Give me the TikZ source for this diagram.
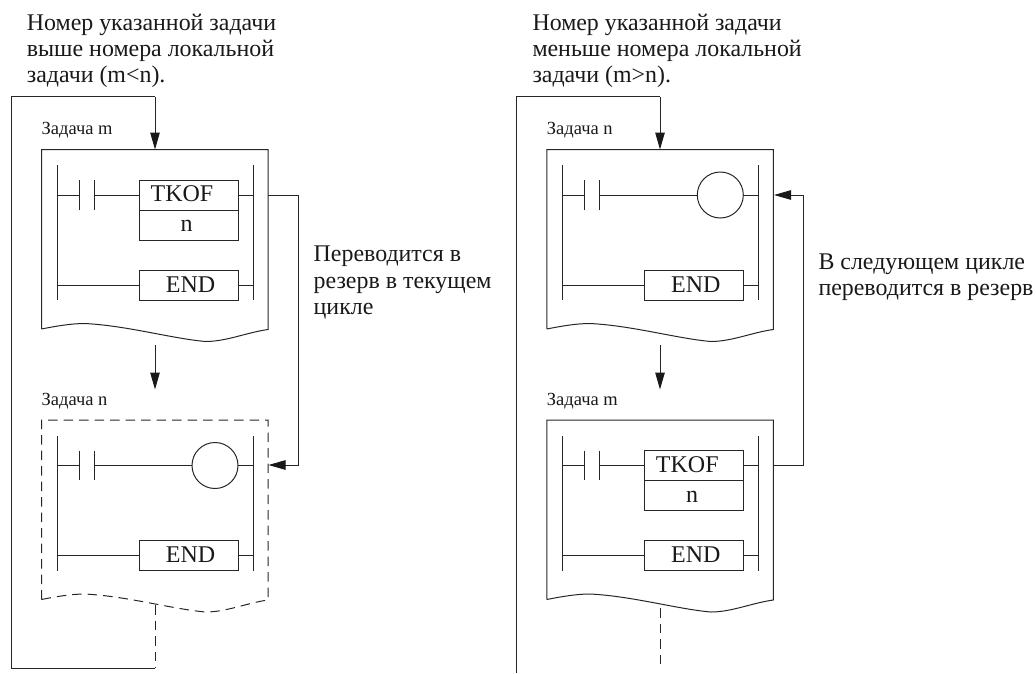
\documentclass[tikz,border=0pt]{standalone}
\usepackage{fontspec}
\setmainfont{Liberation Serif}
\usetikzlibrary{arrows.meta}
\tikzset{
  x=1pt,y=-1pt,
  wire/.style={line width=1pt,draw=black!85},
  rail/.style={line width=1pt,draw=black!85},
  loopline/.style={line width=1pt,draw=black!85},
  arrowline/.style={line width=1pt,draw=black!85,-{Triangle[length=17pt,width=9.5pt,black!90]}},
  dashline/.style={line width=1pt,draw=black!85,dash pattern=on 9.5pt off 6pt},
  bodytext/.style={anchor=base west,inner sep=0pt,font=\fontsize{23.9}{26}\selectfont,text=black!90},
  tasklabel/.style={anchor=base west,inner sep=0pt,font=\fontsize{18.5}{20}\selectfont,text=black!90},
  cmdbox/.style={draw=black!85,line width=1pt,minimum width=98.5pt,minimum height=30pt,inner sep=0pt,outer sep=0pt,anchor=north west},
  cmdtext/.style={anchor=base,inner sep=0pt,font=\fontsize{24}{26}\selectfont,text=black!90},
  coilnode/.style={draw=black!85,line width=1pt,circle,minimum size=46pt,inner sep=0pt,outer sep=0pt},
}
\newcommand{\wavebox}[4]{%
  \draw[#4] (#2,#3+179.5) -- (#2,#3) -- (#2+226.5,#3) -- (#2+226.5,#3+180)
    .. controls (#2+205,#3+183) and (#2+185,#3+192) .. (#2+164,#3+192)
    .. controls (#2+130,#3+189) and (#2+85,#3+176) .. (#2+43,#3+174)
    .. controls (#2+30,#3+174) and (#2+15,#3+176.5) .. (#2,#3+179.5);
}
\newcommand{\ladderbase}[3]{%
  \coordinate (#1rt) at (#2+15.5,#3+15.5);
  \coordinate (#1rb) at (#2+15.5,#3+150.5);
  \coordinate (#1st) at (#2+211.5,#3+15.5);
  \coordinate (#1sb) at (#2+211.5,#3+150.5);
  \draw[rail] (#1rt) -- (#1rb);
  \draw[rail] (#1st) -- (#1sb);
  \coordinate (#1l1) at (#2+15.5,#3+45.5);
  \coordinate (#1c1) at (#2+37.5,#3+45.5);
  \coordinate (#1c2) at (#2+52.5,#3+45.5);
  \coordinate (#1r1) at (#2+211.5,#3+45.5);
  \draw[wire] (#1l1) -- (#1c1);
  \draw[wire] (#2+37.5,#3+30.5) -- (#2+37.5,#3+60);
  \draw[wire] (#2+52.5,#3+30.5) -- (#2+52.5,#3+60);
  \node[cmdbox] (#1end) at (#2+98,#3+120.5) {};
  \node[cmdtext] (#1endt) at (#2+149,#3+142.5) {END};
  \draw[wire] (#2+15.5,#3+135.5) -- (#1end.west);
  \draw[wire] (#1end.east) -- (#2+211.5,#3+135.5);
}
\newcommand{\rungtkof}[3]{%
  \node[cmdbox] (#1tk) at (#2+98,#3+30.5) {};
  \node[cmdbox] (#1arg) at (#2+98,#3+60.5) {};
  \node[cmdtext] (#1tkt) at (#2+140.5,#3+52.3) {TKOF};
  \node[cmdtext] (#1argt) at (#2+145.2,#3+82.3) {n};
  \draw[wire] (#1c2) -- (#1tk.west);
  \draw[wire] (#1tk.east) -- (#1r1);
}
\newcommand{\rungcoil}[3]{%
  \node[coilnode] (#1coil) at (#2+173.5,#3+45.5) {};
  \draw[wire] (#1c2) -- (#1coil.west);
  \draw[wire] (#1coil.east) -- (#1r1);
}
\begin{document}
\begin{tikzpicture}
\useasboundingbox (0,0) rectangle (1036,673);
% ---------- left column
\node[bodytext] (lt1) at (26.7,30) {Номер указанной задачи};
\node[bodytext] (lt2) at (26.7,56) {выше номера локальной};
\node[bodytext] (lt3) at (26.7,82) {задачи (m<n).};
\node[tasklabel] (ll1) at (41.5,134) {Задача m};
\wavebox{a}{41.5}{149.5}{loopline}
\ladderbase{a}{41.5}{149.5}
\rungtkof{a}{41.5}{149.5}
\node[tasklabel] (ll2) at (41.5,405) {Задача n};
\wavebox{b}{41.5}{420}{dashline}
\ladderbase{b}{41.5}{420}
\rungcoil{b}{41.5}{420}
\coordinate (aTop) at (155,149.5);
\coordinate (aCorner1) at (155,96.5);
\coordinate (aCorner2) at (11.5,96.5);
\coordinate (aCorner3) at (11.5,668);
\coordinate (aCorner4) at (155,668);
\coordinate (aDash) at (155,605);
\draw[loopline] (aCorner4) -- (aCorner3) -- (aCorner2) -- (aCorner1);
\draw[arrowline] (aCorner1) -- (aTop);
\draw[dashline] (aDash) -- (aCorner4);
\coordinate (aMidA) at (155,345);
\coordinate (aMidB) at (155,389.5);
\draw[arrowline] (aMidA) -- (aMidB);
\coordinate (aOutS) at (268,195);
\coordinate (aOutC) at (298,195);
\coordinate (aOutD) at (298,465);
\coordinate (aOutE) at (268.5,465);
\draw[arrowline] (aOutS) -- (aOutC) -- (aOutD) -- (aOutE);
\node[bodytext] (lr1) at (313.5,261.7) {Переводится в};
\node[bodytext] (lr2) at (313.5,288) {резерв в текущем};
\node[bodytext] (lr3) at (313.5,314) {цикле};
% ---------- right column
\node[bodytext] (rt1) at (532.3,30) {Номер указанной задачи};
\node[bodytext] (rt2) at (532.3,56) {меньше номера локальной};
\node[bodytext] (rt3) at (532.3,82) {задачи (m>n).};
\node[tasklabel] (rl1) at (546.7,134) {Задача n};
\wavebox{c}{546.8}{149.5}{loopline}
\ladderbase{c}{546.8}{149.5}
\rungcoil{c}{546.8}{149.5}
\node[tasklabel] (rl2) at (546.7,405) {Задача m};
\wavebox{d}{546.8}{420}{loopline}
\ladderbase{d}{546.8}{420}
\rungtkof{d}{546.8}{420}
\coordinate (cTop) at (660,149.5);
\coordinate (cCorner1) at (660,96.5);
\coordinate (cCorner2) at (516.8,96.5);
\coordinate (cCorner3) at (516.8,673);
\draw[loopline] (cCorner3) -- (cCorner2) -- (cCorner1);
\draw[arrowline] (cCorner1) -- (cTop);
\coordinate (cDashA) at (660,608);
\coordinate (cDashB) at (660,668);
\draw[dashline] (cDashA) -- (cDashB);
\coordinate (cMidA) at (660,345);
\coordinate (cMidB) at (660,389.5);
\draw[arrowline] (cMidA) -- (cMidB);
\coordinate (cOutS) at (773.3,465);
\coordinate (cOutC) at (803,465);
\coordinate (cOutD) at (803,195);
\coordinate (cOutE) at (774,195);
\draw[arrowline] (cOutS) -- (cOutC) -- (cOutD) -- (cOutE);
\node[bodytext] (rr1) at (818.3,269) {В следующем цикле};
\node[bodytext] (rr2) at (818.3,295.7) {переводится в резерв};
\end{tikzpicture}
\end{document}
